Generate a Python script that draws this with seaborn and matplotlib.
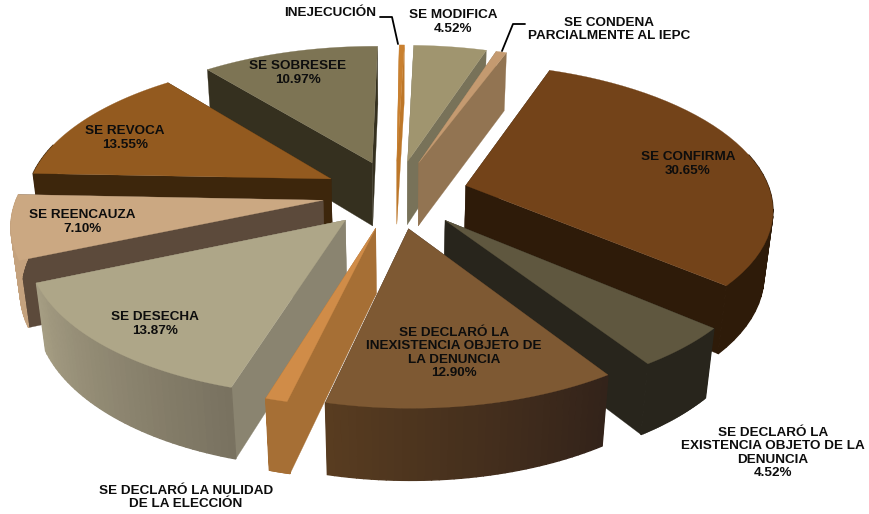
import numpy as np
import matplotlib
matplotlib.use("Agg")
import matplotlib.pyplot as plt
import seaborn as sns
from matplotlib.colors import to_rgb

# ---- data (clockwise from the top) ----
categories = ["SE MODIFICA", "SE CONDENA PARCIALMENTE AL IEPC", "SE CONFIRMA",
              "SE DECLARÓ LA EXISTENCIA OBJETO DE LA DENUNCIA",
              "SE DECLARÓ LA INEXISTENCIA OBJETO DE LA DENUNCIA",
              "SE DECLARÓ LA NULIDAD DE LA ELECCIÓN", "SE DESECHA", "SE REENCAUZA",
              "SE REVOCA", "SE SOBRESEE", "INEJECUCIÓN"]
values = [4.52, 0.65, 30.65, 4.52, 12.90, 0.97, 13.87, 7.10, 13.55, 10.97, 0.32]
top_colors = ["#a0956f", "#c49a70", "#734319", "#5f573f", "#7e5933", "#d08c48",
              "#aea688", "#cba882", "#935a1f", "#7d7454", "#c9802f"]
cut_colors = ["#787259", "#927452", "#2e1b09", "#28251c", "#33241a", "#a66f35",
              "#8a8470", "#5c4a3b", "#3d260c", "#35301f", "#bd7729"]
wall_left = ["#787259", "#927452", "#2e1b09", "#28251c", "#583c20", "#a66f35",
             "#a59d83", "#c4a27e", "#3d260c", "#35301f", "#bd7729"]
wall_right = ["#787259", "#927452", "#2e1b09", "#28251c", "#33231a", "#a66f35",
              "#797260", "#c4a27e", "#3d260c", "#35301f", "#bd7729"]

# ---- projection of the tilted, exploded pie ----
CX, CY, A, B, K, H, M = 395.5, 194, 305, 142, 0.146, 66, 0.024
EXPLODE, START = 0.24, 1.7


def project(u, v, z=0.0):
    s = 1.0 / (1.0 + K * v + M * z)
    return CX + A * u * s, CY - (B * v - H * z) * s


sns.set_theme(style="white")
plt.rcParams["font.family"] = ["Liberation Sans", "DejaVu Sans"]
fig, ax = plt.subplots(figsize=(8.69, 5.14), dpi=100)
fig.subplots_adjust(0, 0, 1, 1)
ax.set_xlim(0, 869)
ax.set_ylim(514, 0)
ax.axis("off")

edges = START + np.concatenate([[0], np.cumsum(values)]) / np.sum(values) * 360
wedges = []
for i in range(len(values)):
    t0, t1 = np.radians(edges[i]), np.radians(edges[i + 1])
    mid = (t0 + t1) / 2
    du, dv = EXPLODE * np.sin(mid), EXPLODE * np.cos(mid)
    wedges.append((dv, i, t0, t1, du))

# painter's order: far wedges first
for rank, (dv, i, t0, t1, du) in enumerate(sorted(wedges, key=lambda w: -w[0])):
    ts = np.linspace(t0, t1, 40)
    ru, rv = du + np.sin(ts), dv + np.cos(ts)
    tx, ty = project(ru, rv)
    bx, by = project(ru, rv, 1)
    apx, apy = project(du, dv)
    abx, aby = project(du, dv, 1)
    order = 2 + rank
    # cut faces
    for k in (0, -1):
        ax.fill([apx, tx[k], bx[k], abx], [apy, ty[k], by[k], aby],
                color=cut_colors[i], lw=0.2, zorder=order)
    # outer wall, shaded strip by strip; only the part that faces the viewer
    c0, c1 = np.array(to_rgb(wall_left[i])), np.array(to_rgb(wall_right[i]))
    for j in range(len(ts) - 1):
        if np.cos(ts[j]) > 0.25:
            continue
        f = j / (len(ts) - 2)
        col = c1 + (c0 - c1) * f
        ax.fill([tx[j], tx[j + 1], bx[j + 1], bx[j]], [ty[j], ty[j + 1], by[j + 1], by[j]],
                facecolor=col, edgecolor=col, lw=1.0, zorder=order + 0.1)
    ax.fill(np.r_[apx, tx], np.r_[apy, ty], color=top_colors[i], lw=0.2, zorder=order + 0.2)

# ---- labels ----
txt = dict(ha="center", va="center", fontsize=9.7, fontweight="bold", color="#0d0d0d",
           zorder=40, linespacing=1.18)
ax.text(330, 13, categories[10], **txt)
ax.text(453, 22, f"{categories[0]}\n{values[0]:.2f}%", **txt)
ax.text(609, 29.5, "SE CONDENA\nPARCIALMENTE AL IEPC", **txt)
ax.text(688, 164, f"{categories[2]}\n{values[2]:.2f}%", **txt)
ax.text(773, 453, f"SE DECLARÓ LA\nEXISTENCIA OBJETO DE LA\nDENUNCIA\n{values[3]:.2f}%", **txt)
ax.text(454, 353, f"SE DECLARÓ LA\nINEXISTENCIA OBJETO DE\nLA DENUNCIA\n{values[4]:.2f}%", **txt)
ax.text(186, 497.5, "SE DECLARÓ LA NULIDAD\nDE LA ELECCIÓN", **txt)
ax.text(155, 324, f"{categories[6]}\n{values[6]:.2f}%", **txt)
ax.text(82, 222, f"{categories[7]}\n{values[7]:.2f}%", **txt)
ax.text(125, 138, f"{categories[8]}\n{values[8]:.2f}%", **txt)
ax.text(298, 73, f"{categories[9]}\n{values[9]:.2f}%", **txt)

# leader lines
ax.plot([380, 392, 398], [17, 17, 44], color="black", lw=1.3, zorder=41)
ax.plot([525, 513, 502], [24, 24, 51], color="black", lw=1.3, zorder=41)

fig.savefig("out.png", dpi=100, facecolor="white")
